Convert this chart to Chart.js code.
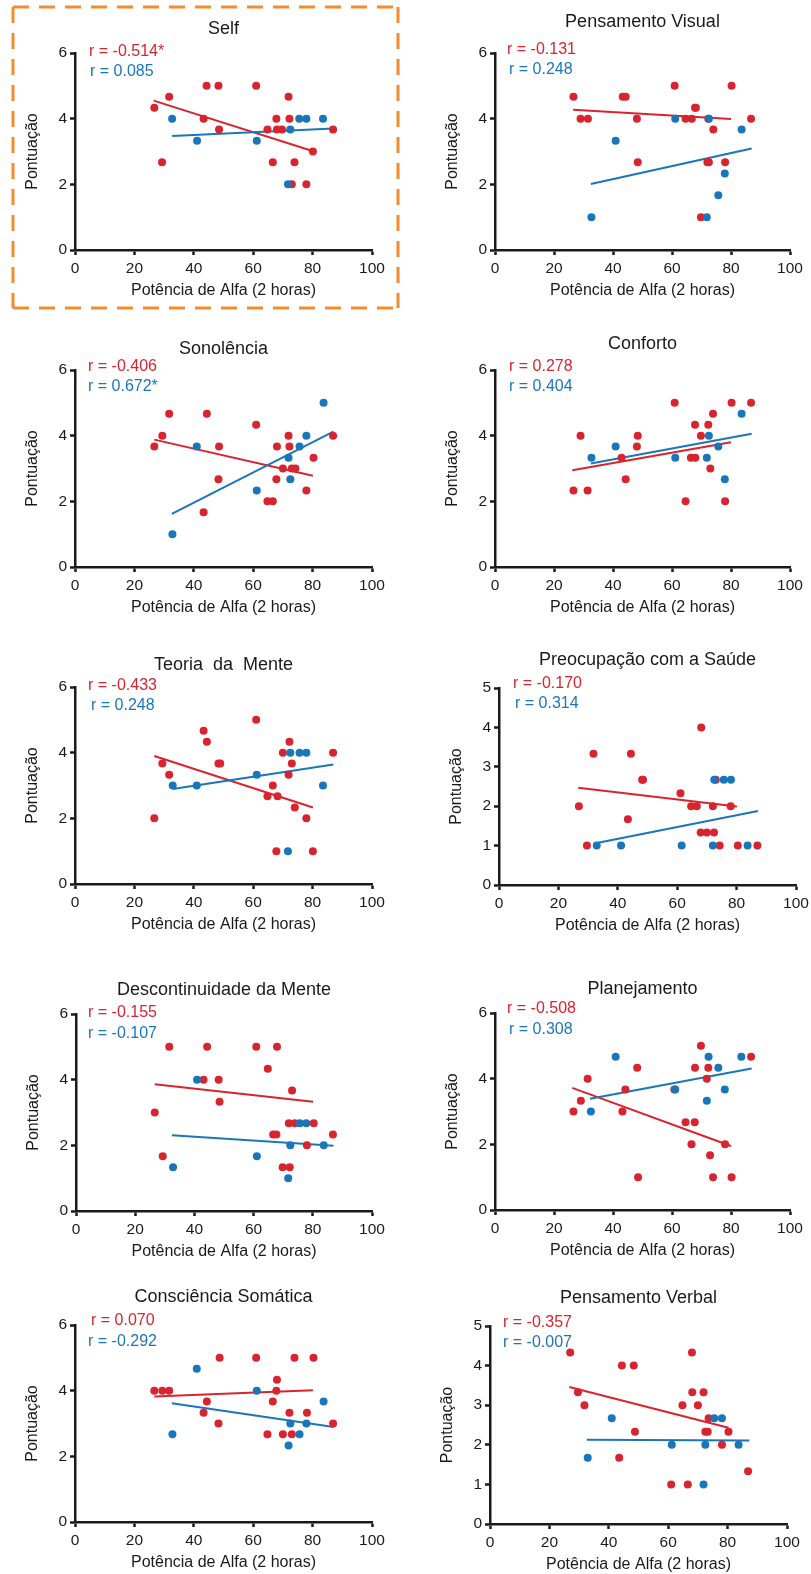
<!DOCTYPE html>
<html>
<head>
<meta charset="utf-8">
<script src="https://cdn.jsdelivr.net/npm/chart.js@4.4.1/dist/chart.umd.min.js"></script>
<style>
  html, body { margin: 0; padding: 0; background: #fff; }
  #page { position: relative; width: 811px; height: 1574px; overflow: hidden; }
  #page canvas { position: absolute; }
</style>
</head>
<body>
<div id="page">
  <canvas id="frame" width="811" height="330" style="left:0;top:0"></canvas>
</div>
<script>
// x = alpha power (2 h), y = score. red / blue groups, plus fitted line ends
const selfRed = [[26.7,4.33],[29.3,2.67],[31.7,4.67],[43.3,4],[44.3,5],[48.3,5],[48.5,3.67],[61,5],[64.8,3.67],[66.6,2.67],[67.8,4],[68,3.67],[69.7,3.67],[71.9,4.67],[72.2,4],[73,2],[73.9,2.67],[77.9,2],[80.1,3],[86.9,3.67]];
const selfBlue = [[32.7,4],[41.1,3.33],[61.2,3.33],[71.7,2],[72.5,3.67],[75.5,4],[77.9,4],[83.5,4]];
const selfRedFit = [[26.5,4.55],[80.5,3.0]];
const selfBlueFit = [[32.7,3.47],[86.9,3.70]];

const visualRed = [[26.6,4.67],[29,4],[31.5,4],[43.3,4.67],[44.3,4.67],[48.1,4],[48.4,2.67],[60.9,5],[64.6,4],[66.7,4],[67.8,4.33],[68.1,4.33],[69.8,1],[72,2.67],[72.5,2.67],[72.3,4],[74,3.67],[78,2.67],[80.2,5],[86.8,4]];
const visualBlue = [[32.7,1],[40.9,3.33],[61.1,4],[71.8,1],[72.5,4],[75.7,1.67],[77.9,2.33],[83.6,3.67]];
const visualRedFit = [[26.5,4.27],[80,3.99]];
const visualBlueFit = [[32.5,2.01],[87,3.09]];

const sonoRed = [[26.7,3.67],[29.4,4],[31.7,4.67],[43.3,1.67],[44.4,4.67],[48.3,2.67],[48.5,3.67],[61,4.33],[64.8,2],[66.6,2],[67.8,2.67],[68,3.67],[70,3],[71.9,4],[72.2,3.67],[73,3],[74.2,3],[77.9,2.33],[80.3,3.33],[86.9,4]];
const sonoBlue = [[32.8,1],[41,3.67],[61.2,2.33],[71.9,3.33],[72.5,2.67],[75.6,3.67],[77.9,4],[83.7,5]];
const sonoRedFit = [[26.7,3.88],[80.1,2.78]];
const sonoBlueFit = [[32.6,1.62],[87,4.12]];

const confortoRed = [[26.6,2.33],[29,4],[31.4,2.33],[42.9,3.33],[44.3,2.67],[48.1,3.67],[48.4,4],[60.9,5],[64.6,2],[66.4,3.33],[67.8,4.33],[67.9,3.33],[69.8,4],[72.3,4.33],[73,3],[73.9,4.67],[78,2],[80.2,5],[86.8,5]];
const confortoBlue = [[32.7,3.33],[40.9,3.67],[61.1,3.33],[71.8,3.33],[72.5,4],[75.7,3.67],[77.9,2.67],[83.6,4.67]];
const confortoRedFit = [[26.2,2.95],[80,3.8]];
const confortoBlueFit = [[32.5,3.15],[87,4.06]];

const teoriaRed = [[26.7,2],[29.4,3.67],[31.7,3.33],[43.3,4.67],[44.4,4.33],[48.3,3.67],[48.9,3.67],[61,5],[64.8,2.67],[66.6,3],[67.8,1],[68.2,2.67],[70,4],[71.9,3.33],[72.2,4.33],[73,3.67],[74,2.33],[77.9,2],[80.1,1],[86.9,4]];
const teoriaBlue = [[32.9,3],[41,3],[61.2,3.33],[71.7,1],[72.5,4],[75.6,4],[77.9,4],[83.5,3]];
const teoriaRedFit = [[26.7,3.9],[80.1,2.33]];
const teoriaBlueFit = [[32.9,2.89],[87,3.64]];

const saudeRed = [[26.9,2],[29.6,1],[31.8,3.33],[43.4,1.67],[44.4,3.33],[48.2,2.67],[48.5,2.67],[61.1,2.33],[64.7,2],[66.6,2],[67.9,1.33],[68.1,4],[70,1.33],[72,2],[72.4,1.33],[73,2.67],[74.3,1],[78,2],[80.4,1],[87,1]];
const saudeBlue = [[32.9,1],[41.1,1],[61.5,1],[72,1],[72.5,2.67],[75.7,2.67],[78.1,2.67],[83.7,1]];
const saudeRedFit = [[26.7,2.47],[80.1,1.99]];
const saudeBlueFit = [[32.5,1.06],[87.2,1.88]];

const descRed = [[26.6,3],[29.3,1.67],[31.5,5],[43.1,4],[44.3,5],[48.2,4],[48.5,3.33],[60.9,5],[64.8,4.33],[66.6,2.33],[67.7,2.33],[67.9,5],[69.8,1.33],[71.9,2.67],[72.2,1.33],[73,3.67],[73.9,2.67],[78,2],[80.3,2.67],[86.8,2.33]];
const descBlue = [[32.8,1.33],[40.9,4],[61.1,1.67],[71.7,1],[72.4,2],[75.6,2.67],[77.8,2.67],[83.7,2]];
const descRedFit = [[26.6,3.86],[80.1,3.33]];
const descBlueFit = [[32.4,2.31],[87,1.99]];

const planRed = [[26.6,3],[29.1,3.33],[31.4,4],[43.2,3],[44.2,3.67],[48.2,4.33],[48.5,1],[60.8,3.67],[64.6,2.67],[66.6,2],[67.7,2.67],[67.8,4.33],[69.8,5],[71.8,4],[72.3,4.33],[72.9,1.67],[73.9,1],[78,2],[80.2,1],[86.8,4.67]];
const planBlue = [[32.5,3],[40.9,4.67],[61.1,3.67],[71.8,3.33],[72.4,4.67],[75.7,4.33],[77.9,3.67],[83.5,4.67]];
const planRedFit = [[26.2,3.72],[80,1.95]];
const planBlueFit = [[32.2,3.39],[87,4.31]];

const somaRed = [[26.7,4],[29.4,4],[31.7,4],[43.3,3.33],[44.4,3.67],[48.3,3],[48.7,5],[61,5],[64.8,2.67],[66.6,3.67],[67.8,4],[68,4.33],[70,2.67],[72.2,3.33],[73,2.67],[73.9,5],[78.1,3.33],[80.3,5],[86.9,3]];
const somaBlue = [[32.8,2.67],[41,4.67],[61.2,4],[71.9,2.33],[72.5,3],[75.6,2.67],[77.9,3],[83.7,3.67]];
const somaRedFit = [[26.7,3.82],[80.1,4.01]];
const somaBlueFit = [[32.6,3.62],[87.1,2.89]];

const verbalRed = [[27,4.33],[29.6,3.33],[31.8,3],[43.5,1.67],[44.4,4],[48.4,4],[48.8,2.33],[61,1],[64.8,3],[66.6,1],[68,4.33],[68.1,3.33],[70,3],[71.9,3.33],[72.5,2.33],[73.3,2.33],[73.6,2.67],[78.1,2],[80.3,2.33],[86.9,1.33]];
const verbalBlue = [[32.9,1.67],[41,2.67],[61.2,2],[71.9,1],[72.5,2],[75.5,2.67],[78.1,2.67],[83.7,2]];
const verbalRedFit = [[26.7,3.46],[80.3,2.43]];
const verbalBlueFit = [[32.6,2.13],[87.3,2.11]];

const titles = ['Self', 'Pensamento Visual', 'Sonolência', 'Conforto', 'Teoria  da  Mente',
  'Preocupação com a Saúde', 'Descontinuidade da Mente', 'Planejamento', 'Consciência Somática', 'Pensamento Verbal'];
const rRed = ['r = -0.514*', 'r = -0.131', 'r = -0.406', 'r = 0.278', 'r = -0.433',
  'r = -0.170', 'r = -0.155', 'r = -0.508', 'r = 0.070', 'r = -0.357'];
const rBlue = ['r = 0.085', 'r = 0.248', 'r = 0.672*', 'r = 0.404', 'r = 0.248',
  'r = 0.314', 'r = -0.107', 'r = 0.308', 'r = -0.292', 'r = -0.007'];
const yMax = [6, 6, 6, 6, 6, 5, 6, 6, 6, 5];
const xTicksMax = 100;

const RED = '#d8242e';
const BLUE = '#1a76ba';
const INK = '#1a1a1a';
const FONT = '"Liberation Sans", Arial, Helvetica, sans-serif';
Chart.defaults.font.family = FONT;

// plot box in page pixels [left, top, right, bottom] and text offsets
const panels = [
  { red: selfRed, blue: selfBlue, redFit: selfRedFit, blueFit: selfBlueFit, box: [75, 53, 372, 250], titleDy: -24, rr: [14, -1], rb: [15, 19] },
  { red: visualRed, blue: visualBlue, redFit: visualRedFit, blueFit: visualBlueFit, box: [495, 53, 790, 250], titleDy: -31, rr: [12, -3], rb: [14, 17] },
  { red: sonoRed, blue: sonoBlue, redFit: sonoRedFit, blueFit: sonoBlueFit, box: [75, 370, 372, 567], titleDy: -21, rr: [13, -3], rb: [13, 17] },
  { red: confortoRed, blue: confortoBlue, redFit: confortoRedFit, blueFit: confortoBlueFit, box: [495, 370, 790, 567], titleDy: -26, rr: [14, -3], rb: [14, 17] },
  { red: teoriaRed, blue: teoriaBlue, redFit: teoriaRedFit, blueFit: teoriaBlueFit, box: [75, 687, 372, 884], titleDy: -22, rr: [13, -1], rb: [16, 19] },
  { red: saudeRed, blue: saudeBlue, redFit: saudeRedFit, blueFit: saudeBlueFit, box: [499, 688, 796, 885], titleDy: -28, rr: [14, -4], rb: [16, 16] },
  { red: descRed, blue: descBlue, redFit: descRedFit, blueFit: descBlueFit, box: [76, 1014, 372, 1211], titleDy: -24, rr: [12, -1], rb: [12, 20] },
  { red: planRed, blue: planBlue, redFit: planRedFit, blueFit: planBlueFit, box: [495, 1013, 790, 1210], titleDy: -24, rr: [12, -4], rb: [14, 17] },
  { red: somaRed, blue: somaBlue, redFit: somaRedFit, blueFit: somaBlueFit, box: [75, 1325, 372, 1522], titleDy: -28, rr: [16, -4], rb: [13, 17] },
  { red: verbalRed, blue: verbalBlue, redFit: verbalRedFit, blueFit: verbalBlueFit, box: [490, 1326, 787, 1524], titleDy: -28, rr: [13, -3], rb: [13, 17] },
];

const toXY = (arr) => arr.map(([x, y]) => ({ x, y }));

const panelText = {
  id: 'panelText',
  afterDraw(chart, args, o) {
    const { ctx, chartArea: a } = chart;
    const cx = (a.left + a.right) / 2;
    ctx.save();
    ctx.fillStyle = INK;
    ctx.textAlign = 'center';
    ctx.textBaseline = 'middle';
    ctx.font = '18px ' + FONT;
    ctx.fillText(o.title, cx, a.top + o.titleDy);
    ctx.font = '16px ' + FONT;
    ctx.fillText('Potência de Alfa (2 horas)', cx, a.bottom + 41);
    ctx.save();
    ctx.translate(a.left - 42, (a.top + a.bottom) / 2);
    ctx.rotate(-Math.PI / 2);
    ctx.fillText('Pontuação', 0, 0);
    ctx.restore();
    ctx.textAlign = 'left';
    ctx.fillStyle = RED;
    ctx.fillText(o.rRed, a.left + o.rr[0], a.top + o.rr[1]);
    ctx.fillStyle = BLUE;
    ctx.fillText(o.rBlue, a.left + o.rb[0], a.top + o.rb[1]);
    ctx.restore();
  }
};

const page = document.getElementById('page');
const PAD_L = 60, PAD_T = 48, PAD_R = 22, PAD_B = 52;

panels.forEach((p, i) => {
  const [L, T, R, B] = p.box;
  const cv = document.createElement('canvas');
  cv.width = R - L + PAD_L + PAD_R;
  cv.height = B - T + PAD_T + PAD_B;
  cv.style.left = (L - PAD_L) + 'px';
  cv.style.top = (T - PAD_T) + 'px';
  page.appendChild(cv);

  const axis = {
    border: { color: INK, width: 2.5 },
    grid: { drawOnChartArea: false, drawTicks: true, tickLength: 5, tickWidth: 2.5, tickColor: INK },
  };

  new Chart(cv, {
    type: 'scatter',
    data: {
      datasets: [
        { type: 'line', data: toXY(p.redFit), borderColor: RED, borderWidth: 2, pointRadius: 0, fill: false, order: 4 },
        { type: 'line', data: toXY(p.blueFit), borderColor: BLUE, borderWidth: 2, pointRadius: 0, fill: false, order: 3 },
        { data: toXY(p.red), backgroundColor: RED, borderWidth: 0, pointRadius: 4, order: 2 },
        { data: toXY(p.blue), backgroundColor: BLUE, borderWidth: 0, pointRadius: 4, order: 1 },
      ]
    },
    options: {
      responsive: false,
      animation: false,
      events: [],
      layout: { padding: { top: PAD_T, right: PAD_R, left: 0, bottom: 0 } },
      plugins: {
        legend: { display: false },
        tooltip: { enabled: false },
        panelText: { title: titles[i], titleDy: p.titleDy, rRed: rRed[i], rBlue: rBlue[i], rr: p.rr, rb: p.rb },
      },
      scales: {
        x: {
          ...axis,
          type: 'linear', min: 0, max: xTicksMax,
          ticks: { stepSize: 20, color: INK, font: { size: 15.5 }, padding: 4 },
          afterFit(s) { s.height = PAD_B; },
        },
        y: {
          ...axis,
          type: 'linear', min: 0, max: yMax[i],
          ticks: { stepSize: yMax[i] === 5 ? 1 : 2, color: INK, font: { size: 15.5 }, padding: 3 },
          afterFit(s) { s.width = PAD_L; },
        },
      },
    },
    plugins: [panelText],
  });
});

// dashed highlight frame around the first panel
const fr = document.getElementById('frame').getContext('2d');
fr.strokeStyle = '#f28c2c';
fr.lineWidth = 3;
fr.setLineDash([16, 10]);
[[13, 7, 398, 7], [13, 308, 398, 308], [13, 7, 13, 308], [398, 7, 398, 308]].forEach(([x1, y1, x2, y2]) => {
  fr.beginPath();
  fr.moveTo(x1, y1);
  fr.lineTo(x2, y2);
  fr.stroke();
});
</script>
</body>
</html>
